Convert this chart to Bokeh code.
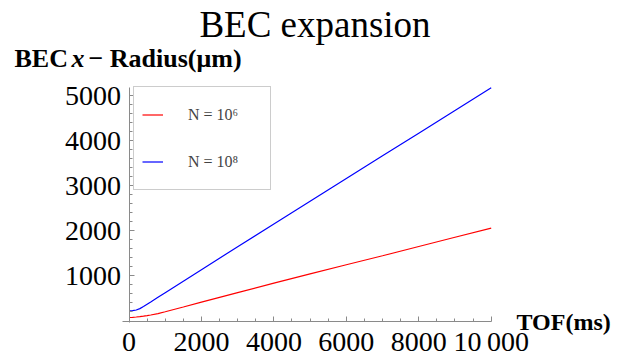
from bokeh.plotting import figure
from bokeh.models import Range1d, FixedTicker, Label, Legend, LegendItem
from bokeh.embed import file_html
from bokeh.resources import INLINE

# ---- data ----
tof_ms = [0, 100, 200, 300, 400, 500, 600, 800, 1000, 1500, 2000, 3000, 4000, 5000, 6000, 7000, 8000, 9000, 10000]
radius_n1e6 = [78, 82, 89, 98, 109, 121, 134, 165, 205, 310, 418, 630, 840, 1045, 1250, 1450, 1655, 1860, 2062]
radius_n1e8 = [227, 230, 245, 275, 320, 370, 420, 525, 630, 885, 1140, 1650, 2155, 2660, 3165, 3670, 4172, 4676, 5180]
x_ticks = [0, 2000, 4000, 6000, 8000, 10000]
y_ticks = [1000, 2000, 3000, 4000, 5000]
series_labels = ["N = 10\u2076", "N = 10\u2078"]
title_text = "BEC expansion"
x_label = "TOF(ms)"

SERIF = "Liberation Serif"
AXIS_GRAY = "#8a8a8a"

W, H = 626, 358
# pixel placement of the data window (origin and far corner)
X0_PX, X1_PX = 128.5, 490.7
Y0_PX, Y1_PX = 320.5, 87.3
X_MAX, Y_MAX = 10000, 5180
sx = X_MAX / (X1_PX - X0_PX)
sy = Y_MAX / (Y0_PX - Y1_PX)


def dx(px):
    return (px - X0_PX) * sx


def dy(py):
    return (Y0_PX - py) * sy


p = figure(width=W, height=H, output_backend="svg", toolbar_location=None,
           x_range=Range1d(dx(0), dx(W)), y_range=Range1d(dy(H), dy(0)),
           min_border=0, min_border_left=0, min_border_right=0,
           min_border_top=0, min_border_bottom=0)
p.outline_line_color = None
p.xgrid.grid_line_color = None
p.ygrid.grid_line_color = None
p.background_fill_color = "white"
p.border_fill_color = "white"

for ax, ticks, minors, bounds in (
        (p.xaxis[0], x_ticks, [t for t in range(500, 10000, 500) if t % 2000], (-190, X_MAX)),
        (p.yaxis[0], y_ticks, [t for t in range(200, 5200, 200) if t % 1000], (-40, Y_MAX))):
    ax.ticker = FixedTicker(ticks=ticks, minor_ticks=minors)
    ax.fixed_location = 0
    ax.bounds = bounds
    ax.axis_line_color = AXIS_GRAY
    ax.major_tick_line_color = AXIS_GRAY
    ax.minor_tick_line_color = AXIS_GRAY
    ax.major_tick_in = 5
    ax.major_tick_out = 0
    ax.minor_tick_in = 3
    ax.minor_tick_out = 0
    ax.major_label_text_font = SERIF
    ax.major_label_text_font_size = "28px"
    ax.major_label_text_color = "black"

p.xaxis[0].major_label_overrides = {10000: "10\u2009000"}
p.xaxis[0].major_label_standoff = 5
p.yaxis[0].major_label_standoff = 8

r1 = p.line(tof_ms, radius_n1e6, line_color="#ff0000", line_width=1.2)
r2 = p.line(tof_ms, radius_n1e8, line_color="#0000ff", line_width=1.2)

legend = Legend(items=[LegendItem(label=series_labels[0], renderers=[r1]),
                       LegendItem(label=series_labels[1], renderers=[r2])],
                location=(133, H - 190), padding=8, spacing=8, margin=0,
                glyph_width=21, glyph_height=39, label_height=39, label_width=74,
                label_standoff=25, label_text_font=SERIF, label_text_font_size="16px",
                border_line_color="#999999", border_line_width=1,
                background_fill_color="white", background_fill_alpha=1.0)
p.add_layout(legend, "center")


def px_label(x, y, text, size, style="normal", align="left"):
    p.add_layout(Label(x=dx(x), y=dy(y), text=text,
                       text_align=align, text_baseline="alphabetic", text_font=SERIF,
                       text_font_size=size, text_font_style=style, text_color="black"))


px_label(314.5, 24, title_text, "37px", align="center")
px_label(14, 58, "BEC", "26px", "bold")
px_label(71, 58, "x", "26px", "bold italic")
px_label(88, 58, "\u2212 Radius(\u03bcm)", "26px", "bold")
px_label(516, 321, x_label, "24px", "bold")

open("out.html", "w").write(file_html(p, INLINE))
